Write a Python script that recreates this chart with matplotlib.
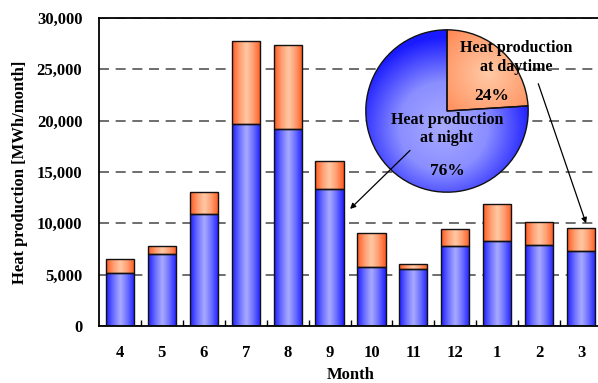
import numpy as np
import matplotlib.pyplot as plt
from matplotlib.colors import LinearSegmentedColormap

plt.rcParams['font.family'] = ['Liberation Serif', 'DejaVu Serif']
plt.rcParams['font.weight'] = 'bold'
plt.rcParams['axes.labelweight'] = 'bold'

months = ['4', '5', '6', '7', '8', '9', '10', '11', '12', '1', '2', '3']
night = [5200, 7000, 10900, 19700, 19200, 13300, 5700, 5600, 7800, 8300, 7900, 7300]
daytime = [1300, 800, 2200, 8100, 8200, 2800, 3400, 400, 1600, 3600, 2200, 2200]
share_labels = ['Heat production\nat daytime', 'Heat production\nat night']
share = [24, 76]

blue_cm = LinearSegmentedColormap.from_list('b', ['#1e1eff', '#6a6eff', '#a9abff', '#6a6eff', '#1e1eff'])
orange_cm = LinearSegmentedColormap.from_list('o', ['#ff5a1e', '#ff9c70', '#ffc9a4', '#ff9c70', '#ff5a1e'])
blue_rad = LinearSegmentedColormap.from_list('br', ['#a9abff', '#8a8eff', '#1a1aff'])
orange_rad = LinearSegmentedColormap.from_list('or', ['#ffcaa6', '#ff9a6a', '#ff5a1e'])

fig = plt.figure(figsize=(5.98, 3.83), dpi=100)
ax = fig.add_axes([99/598, 57/383, 503/598, 308/383])

x = np.arange(len(months))
w = 0.67
grad = np.linspace(0, 1, 64).reshape(1, -1)


def shaded(bars, cmap):
    for b in bars:
        x0, y0 = b.get_x(), b.get_y()
        im = ax.imshow(grad, cmap=cmap, aspect='auto', interpolation='bicubic',
                       extent=[x0, x0 + b.get_width(), y0, y0 + b.get_height()],
                       zorder=2)
        im.set_clip_path(b)


b1 = ax.bar(x, night, w, facecolor='none', edgecolor='#111111', lw=1.0, zorder=3)
b2 = ax.bar(x, daytime, w, bottom=night, facecolor='none', edgecolor='#111111', lw=1.0, zorder=3)
shaded(b1, blue_cm)
shaded(b2, orange_cm)

ax.set_xlim(-0.5, len(months) - 0.5)
ax.set_ylim(0, 30000)
ax.set_yticks(np.arange(0, 30001, 5000))
ax.set_yticklabels(['{:,}'.format(v) for v in range(0, 30001, 5000)])
ax.set_xticks(x)
ax.set_xticklabels(months)
ax.set_xticks(x[:-1] + 0.5, minor=True)
ax.tick_params(axis='y', length=0, pad=12, labelsize=12)
ax.tick_params(axis='x', which='major', length=0, pad=14, labelsize=12)
ax.tick_params(axis='x', which='minor', direction='in', length=4, width=1)
for s in ax.spines.values():
    s.set_linewidth(1.3)
ax.yaxis.grid(True, linestyle=(0, (6, 4)), color='#555555', lw=1.2, zorder=1)
ax.set_axisbelow(True)
ax.set_ylabel('Heat production [MWh/month]', fontsize=12, labelpad=6)
ax.set_xlabel('Month', fontsize=12, labelpad=4)

# inset pie
r = 82
pax = fig.add_axes([(447 - r)/598, (383 - 111 - r)/383, 2*r/598, 2*r/383])
wedges, _ = pax.pie(share, startangle=90, counterclock=False, radius=1,
                    colors=['none', 'none'],
                    wedgeprops=dict(edgecolor='#111111', linewidth=1.0))
yy, xx = np.mgrid[-1:1:200j, -1:1:200j]
for wdg, cmap, c in zip(wedges, [orange_rad, blue_rad], [(0.5, 0.45), (-0.05, -0.2)]):
    d = np.hypot(xx - c[0], yy - c[1])
    im = pax.imshow(d, cmap=cmap, extent=[-1, 1, -1, 1], origin='lower',
                    vmin=0, vmax=1.1, zorder=0)
    im.set_clip_path(wdg)
pax.set_xlim(-1.01, 1.01)
pax.set_ylim(-1.01, 1.01)
pax.set_aspect('equal')
pax.axis('off')

pax.text(0.85, 0.66, share_labels[0], ha='center', va='center', fontsize=11.5, linespacing=1.2, zorder=5)
pax.text(0.55, 0.18, '{}%'.format(share[0]), ha='center', va='center', fontsize=12.5, zorder=5)
pax.text(0.0, -0.22, share_labels[1], ha='center', va='center', fontsize=11.5, linespacing=1.2, zorder=5)
pax.text(0.0, -0.74, '{}%'.format(share[1]), ha='center', va='center', fontsize=12.5, zorder=5)
for t in pax.texts:
    t.set_clip_on(False)

# arrows from the pie labels down to the bars, drawn over the pie
arrow = dict(arrowstyle='-|>', color='black', lw=0.9, mutation_scale=8, shrinkA=0, shrinkB=0)
for head, tail in [((5.49, 11400), (6.92, 17100)), ((11.12, 10000), (9.98, 23600))]:
    a = pax.annotate('', xy=head, xycoords=ax.transData, xytext=tail,
                     textcoords=ax.transData, arrowprops=arrow, zorder=6)
    a.set_annotation_clip(False)
    a.arrow_patch.set_clip_on(False)

fig.savefig('out.png', dpi=100)
